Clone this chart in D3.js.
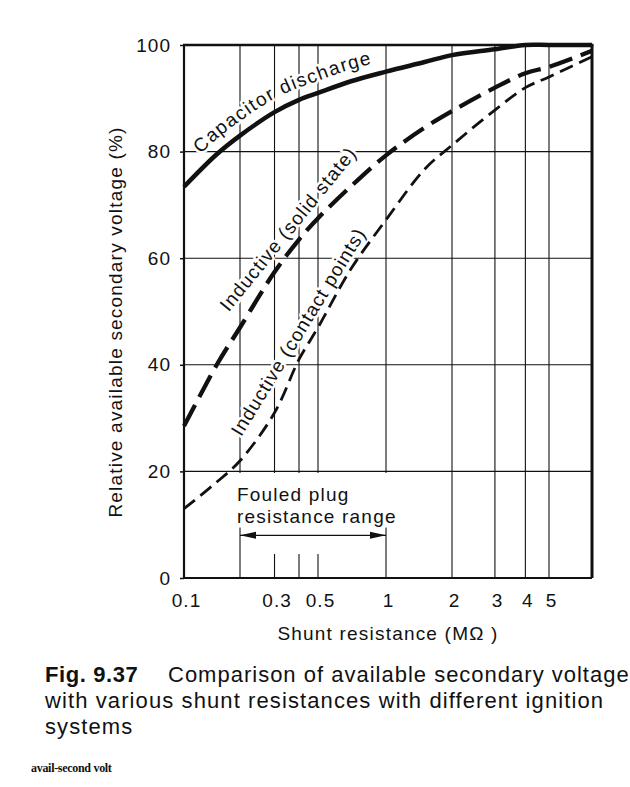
<!DOCTYPE html>
<html>
<head>
<meta charset="utf-8">
<script src="https://cdn.jsdelivr.net/npm/d3@7"></script>
<style>
  body { margin: 0; background: #fff; }
  text { font-family: "Liberation Sans", Arial, Helvetica, sans-serif; fill: #111; }
</style>
</head>
<body>
<div id="chart"></div>
<script>
// shunt resistance in MOhm, readings in % of available secondary voltage
var resistance = [0.1, 0.15, 0.2, 0.3, 0.4, 0.5, 0.7, 1, 1.5, 2, 3, 4, 5, 7.6];
var capacitorDischarge = [73.4, 79.5, 83, 87.4, 89.7, 91, 93.2, 95, 96.8, 98.1, 99.2, 100, 100, 100];
var inductiveSolidState = [28.5, 40, 47, 57.4, 63.5, 67.5, 73.5, 79.3, 84.5, 87.6, 92, 94.7, 95.9, 98.9];
var inductiveContactPoints = [13, 18, 22, 31, 41, 47, 58, 67.2, 76.7, 81.2, 87.8, 92, 94, 97.8];

var xTicks = [0.1, 0.3, 0.5, 1, 2, 3, 4, 5];
var xGrid = [0.2, 0.3, 0.4, 0.5, 1, 2, 3, 4, 5];
var yTicks = [0, 20, 40, 60, 80, 100];
var yGrid = [20, 40, 60, 80];
var fouledRange = [0.2, 1];

var width = 630, height = 787;

var svg = d3.select("#chart")
	.append("svg")
	.attr("width", width)
	.attr("height", height);

// the printed log scale is not even, so it is pieced together
var x = d3.scaleLog()
	.domain([0.1, 0.2, 0.5, 1, 2, 5, 7.6])
	.range([184, 240, 318, 386, 452, 549, 592]);

var y = d3.scaleLinear()
	.domain([0, 100])
	.range([578, 45]);

function series(values) {
	return resistance.map(function(r, i) { return [r, values[i]]; });
}

var line = d3.line()
	.x(function(d) { return x(d[0]); })
	.y(function(d) { return y(d[1]); })
	.curve(d3.curveCatmullRom.alpha(0.5));

// grid
svg.append("g").selectAll("line")
	.data(yGrid)
	.enter()
	.append("line")
	.attr("x1", x(0.1))
	.attr("x2", x(7.6))
	.attr("y1", function(d) { return y(d); })
	.attr("y2", function(d) { return y(d); })
	.attr("stroke", "#111")
	.attr("stroke-width", 1.1);

svg.append("g").selectAll("line")
	.data(xGrid)
	.enter()
	.append("line")
	.attr("x1", function(d) { return x(d); })
	.attr("x2", function(d) { return x(d); })
	.attr("y1", y(0))
	.attr("y2", y(100))
	.attr("stroke", "#111")
	.attr("stroke-width", 1.1);

// axes
var yAxis = svg.append("g")
	.attr("transform", "translate(" + x(0.1) + ",0)")
	.call(d3.axisLeft(y).tickValues(yTicks).tickSize(4).tickPadding(9));
yAxis.select(".domain").remove();
yAxis.selectAll("line").attr("stroke", "#111").attr("stroke-width", 1.5);
yAxis.selectAll("text")
	.style("font-size", "19px")
	.style("letter-spacing", "1px")
	.style("font-family", "'Liberation Sans', Arial, sans-serif");

var xAxis = svg.append("g")
	.attr("transform", "translate(0," + y(0) + ")")
	.call(d3.axisBottom(x).tickValues(xTicks).tickFormat(function(d) { return String(d); })
		.tickSize(0).tickPadding(16));
xAxis.select(".domain").remove();
xAxis.selectAll("text")
	.attr("dx", 2)
	.style("font-size", "19px")
	.style("letter-spacing", "1px")
	.style("font-family", "'Liberation Sans', Arial, sans-serif");

// frame
svg.append("line").attr("x1", x(0.1)).attr("x2", x(0.1)).attr("y1", y(100)).attr("y2", y(0))
	.attr("stroke", "#111").attr("stroke-width", 2.2);
svg.append("line").attr("x1", x(0.1)).attr("x2", x(7.6)).attr("y1", y(0)).attr("y2", y(0))
	.attr("stroke", "#111").attr("stroke-width", 2.2);
svg.append("line").attr("x1", x(0.1) - 1).attr("x2", x(7.6) + 1.5).attr("y1", y(100)).attr("y2", y(100))
	.attr("stroke", "#111").attr("stroke-width", 2.6);
svg.append("line").attr("x1", x(7.6)).attr("x2", x(7.6)).attr("y1", y(100)).attr("y2", y(0))
	.attr("stroke", "#111").attr("stroke-width", 3);

// fouled plug block
var fouled = svg.append("g");
var fouledText = fouled.append("text")
	.attr("x", x(fouledRange[0]) - 3)
	.attr("y", y(14.4))
	.style("font-size", "19px")
	.style("letter-spacing", "1.2px");
fouledText.append("tspan").text("Fouled plug");
fouledText.append("tspan")
	.attr("x", x(fouledRange[0]) - 3)
	.attr("y", y(10.4))
	.text("resistance range");
var bb = fouledText.node().getBBox();
fouled.insert("rect", "text")
	.attr("x", bb.x - 2)
	.attr("y", y(19.7))
	.attr("width", bb.width + 4)
	.attr("height", bb.y + bb.height + 1 - y(19.7))
	.attr("fill", "#fff");
fouled.insert("rect", "text")
	.attr("x", x(0.24))
	.attr("y", y(19.7))
	.attr("width", x(0.9) - x(0.24))
	.attr("height", y(4.5) - y(19.7))
	.attr("fill", "#fff");

var defs = svg.append("defs");
defs.append("marker")
	.attr("id", "head")
	.attr("viewBox", "0 0 16 8")
	.attr("refX", 16)
	.attr("refY", 4)
	.attr("markerWidth", 16)
	.attr("markerHeight", 8)
	.attr("markerUnits", "userSpaceOnUse")
	.attr("orient", "auto-start-reverse")
	.append("path")
	.attr("d", "M0,0.5L16,4L0,7.5Z")
	.attr("fill", "#111");

fouled.append("line")
	.attr("x1", x(fouledRange[0]))
	.attr("x2", x(fouledRange[1]))
	.attr("y1", y(8))
	.attr("y2", y(8))
	.attr("stroke", "#111")
	.attr("stroke-width", 1.2)
	.attr("marker-start", "url(#head)")
	.attr("marker-end", "url(#head)");

// curve labels (white halo hides the grid under the lettering)
function halo(sel) {
	sel.style("font-size", "19px")
		.style("letter-spacing", "1.1px")
		.attr("stroke", "#fff")
		.attr("stroke-width", 5)
		.attr("stroke-linejoin", "round")
		.attr("paint-order", "stroke");
}

defs.append("path")
	.attr("id", "capPath")
	.attr("d", d3.line()
		.x(function(d) { return x(d[0]) - 6; })
		.y(function(d) { return y(d[1]) - 10; })
		.curve(d3.curveCatmullRom.alpha(0.5))(series(capacitorDischarge)));

svg.append("text")
	.call(halo)
	.style("letter-spacing", "1.5px")
	.append("textPath")
	.attr("href", "#capPath")
	.attr("startOffset", 32)
	.text("Capacitor discharge");

svg.append("text")
	.call(halo)
	.attr("transform", "translate(" + x(0.174) + "," + y(49.8) + ") rotate(-51)")
	.text("Inductive (solid state)");

svg.append("text")
	.call(halo)
	.attr("transform", "translate(" + x(0.203) + "," + y(26.4) + ") rotate(-58.5)")
	.text("Inductive (contact points)");

// curves
svg.append("path")
	.attr("d", line(series(capacitorDischarge)))
	.attr("fill", "none")
	.attr("stroke", "#111")
	.attr("stroke-width", 4.5);

svg.append("path")
	.attr("d", line(series(inductiveSolidState)))
	.attr("fill", "none")
	.attr("stroke", "#111")
	.attr("stroke-width", 4.3)
	.attr("stroke-dasharray", "24,9");

svg.append("path")
	.attr("d", line(series(inductiveContactPoints)))
	.attr("fill", "none")
	.attr("stroke", "#111")
	.attr("stroke-width", 2.8)
	.attr("stroke-dasharray", "14,7");

// axis titles
svg.append("text")
	.attr("transform", "translate(122,322) rotate(-90)")
	.attr("text-anchor", "middle")
	.style("font-size", "19px")
	.style("letter-spacing", "1.2px")
	.text("Relative available secondary voltage (%)");

svg.append("text")
	.attr("x", 388)
	.attr("y", 640)
	.attr("text-anchor", "middle")
	.style("font-size", "19px")
	.style("letter-spacing", "1.2px")
	.text("Shunt resistance (M\u03a9 )");

// caption
var cap = svg.append("text")
	.attr("x", 45)
	.attr("y", 682)
	.style("font-size", "22px")
	.style("letter-spacing", "1px");
cap.append("tspan").style("font-weight", "bold").style("letter-spacing", "0.6px").text("Fig. 9.37");
cap.append("tspan").attr("x", 168).text("Comparison of available secondary voltage");

svg.append("text")
	.attr("x", 45)
	.attr("y", 708)
	.style("font-size", "22px")
	.style("letter-spacing", "1.1px")
	.text("with various shunt resistances with different ignition");

svg.append("text")
	.attr("x", 45)
	.attr("y", 734)
	.style("font-size", "22px")
	.style("letter-spacing", "1.1px")
	.text("systems");

svg.append("text")
	.attr("x", 31)
	.attr("y", 772)
	.style("font-family", "'Liberation Serif', 'Times New Roman', serif")
	.style("font-weight", "bold")
	.style("font-size", "12px")
	.style("letter-spacing", "-0.3px")
	.text("avail-second volt");
</script>
</body>
</html>
